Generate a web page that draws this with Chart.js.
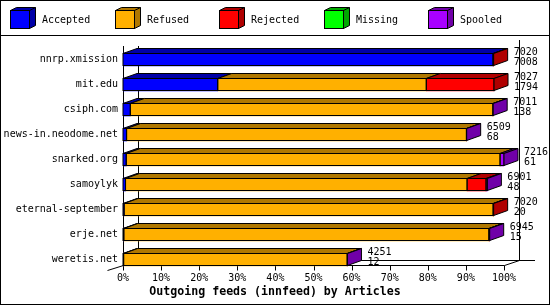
<!DOCTYPE html>
<html lang="en">
<head>
<meta charset="UTF-8">
<title>Outgoing feeds (innfeed) by Articles</title>
<style>
  body { margin: 0; background: #fff; }
  #myChart { display: block; }
</style>
</head>
<body>
<canvas id="myChart" width="550" height="305"></canvas>
<script src="https://cdn.jsdelivr.net/npm/chart.js"></script>
<script>
// feeds and article counts
const feeds = ['nnrp.xmission', 'mit.edu', 'csiph.com', 'news-in.neodome.net', 'snarked.org',
               'samoylyk', 'eternal-september', 'erje.net', 'weretis.net'];
const totals   = [7020, 7027, 7011, 6509, 7216, 6901, 7020, 6945, 4251];
const accepted = [7008, 1794,  138,   68,   61,   48,   20,   15,   12];
const refused  = [   0, 3950, 6868, 6436, 7080, 6469, 6990, 6915, 4234];
const rejected = [  12, 1283,    0,    0,    0,  359,   10,   10,    0];
const missing  = [   0,    0,    0,    0,    0,    0,    0,    0,    0];
const spooled  = [   0,    0,    5,    5,   75,   25,    0,    5,    5];
const xTicks = [0, 10, 20, 30, 40, 50, 60, 70, 80, 90, 100];

const seriesNames = ['Accepted', 'Refused', 'Rejected', 'Missing', 'Spooled'];
const colors = ['#0000ff', '#ffb000', '#ff0000', '#00ff00', '#a800ff'];
const darks  = ['#0000a8', '#b07800', '#b00000', '#00a800', '#7000a8'];

// bars are shown as percent of the largest feed
const maxTotal = Math.max(...totals);
const pct = arr => arr.map(v => v / maxTotal * 100);
const series = [accepted, refused, rejected, missing, spooled];

const DX = 14, DY = 5;       // bar depth
const ADX = 15, ADY = 5;     // axis depth
const FONT = 'DejaVu Sans Mono';

Chart.defaults.font.family = FONT;
Chart.defaults.font.size = 10;
Chart.defaults.color = '#000';

const bars3d = {
  id: 'bars3d',
  beforeDraw(chart) {
    const c = chart.ctx;
    c.save();
    c.fillStyle = '#fff';
    c.fillRect(0, 0, chart.width, chart.height);
    // axes / frame of the 3d plot
    const xs = chart.scales.x;
    const x0 = Math.round(xs.getPixelForValue(0)) + 0.5;
    const x1 = Math.round(xs.getPixelForValue(100)) + 0.5;
    const floor = 265.5;
    c.strokeStyle = '#000';
    c.lineWidth = 1;
    c.beginPath();
    c.moveTo(x0, 46); c.lineTo(x0, floor);
    c.moveTo(x0 + ADX, 46); c.lineTo(x0 + ADX, floor - ADY);
    c.lineTo(535, floor - ADY);
    c.moveTo(x1 + ADX, 40); c.lineTo(x1 + ADX, floor - ADY);
    c.moveTo(x0, floor); c.lineTo(x1, floor); c.lineTo(x1 + ADX, floor - ADY);
    c.moveTo(x0, floor); c.lineTo(x0 - 16, floor + 5);
    xTicks.forEach(t => {
      const px = Math.round(xs.getPixelForValue(t)) + 0.5;
      c.moveTo(px, floor); c.lineTo(px, floor + 5);
    });
    c.stroke();
    c.restore();
  },
  afterDatasetsDraw(chart) {
    const c = chart.ctx;
    c.save();
    c.strokeStyle = '#000';
    c.lineWidth = 1;
    c.lineJoin = 'miter';
    const metas = chart.data.datasets.map((d, i) => chart.getDatasetMeta(i));
    feeds.forEach((f, row) => {
      let last = -1, right = null, top = 0, bottom = 0, cy = 0;
      metas.forEach((m, i) => {
        const p = m.data[row].getProps(['x', 'y', 'base', 'height'], true);
        const xs = Math.min(p.x, p.base), xe = Math.max(p.x, p.base);
        top = p.y - p.height / 2; bottom = p.y + p.height / 2; cy = p.y;
        if (chart.data.datasets[i].data[row] > 0) {
          last = i; right = xe;
          // top face of this segment
          c.fillStyle = darks[i];
          c.beginPath();
          c.moveTo(xs, top + 0.5);
          c.lineTo(xe, top + 0.5);
          c.lineTo(xe + DX, top + 0.5 - DY);
          c.lineTo(xs + DX, top + 0.5 - DY);
          c.closePath();
          c.fill(); c.stroke();
          // outline of the front face
          c.strokeRect(xs, top + 0.5, xe - xs, bottom - top - 1);
        }
      });
      if (last >= 0) {
        c.fillStyle = darks[last];
        c.beginPath();
        c.moveTo(right, top + 0.5);
        c.lineTo(right + DX, top + 0.5 - DY);
        c.lineTo(right + DX, bottom - 0.5 - DY);
        c.lineTo(right, bottom - 0.5);
        c.closePath();
        c.fill(); c.stroke();
      }
      // totals and accepted next to the bar
      c.fillStyle = '#000';
      c.font = '10px ' + FONT;
      c.textAlign = 'left';
      c.textBaseline = 'middle';
      c.fillText(String(totals[row]), right + 20, cy - 7.5);
      c.fillText(String(accepted[row]), right + 20, cy + 2.5);
    });
    c.restore();
  },
  afterDraw(chart) {
    const c = chart.ctx;
    c.save();
    c.strokeStyle = '#000';
    c.lineWidth = 1;
    // legend
    chart.data.datasets.forEach((d, i) => {
      const lx = 10 + Math.round(i * 104.5), ly = 10, w = 19, h = 18, dx = 6, dy = 3;
      c.fillStyle = darks[i];
      c.beginPath();
      c.moveTo(lx + 0.5, ly + 0.5); c.lineTo(lx + dx + 0.5, ly - dy + 0.5);
      c.lineTo(lx + w + dx + 0.5, ly - dy + 0.5); c.lineTo(lx + w + dx + 0.5, ly + h - dy + 0.5);
      c.lineTo(lx + w + 0.5, ly + h + 0.5); c.lineTo(lx + w + 0.5, ly + 0.5);
      c.closePath();
      c.fill(); c.stroke();
      c.beginPath();
      c.moveTo(lx + w + 0.5, ly + 0.5); c.lineTo(lx + w + dx + 0.5, ly - dy + 0.5);
      c.stroke();
      c.fillStyle = d.backgroundColor;
      c.fillRect(lx + 0.5, ly + 0.5, w, h);
      c.strokeRect(lx + 0.5, ly + 0.5, w, h);
      c.fillStyle = '#000';
      c.font = '10px ' + FONT;
      c.textAlign = 'left';
      c.textBaseline = 'middle';
      c.fillText(d.label, lx + 32, 20);
    });
    c.beginPath();
    c.moveTo(0, 35.5); c.lineTo(chart.width, 35.5);
    c.stroke();
    c.strokeRect(0.5, 0.5, chart.width - 1, chart.height - 1);
    c.restore();
  }
};

const ctx = document.getElementById('myChart');

const chart = new Chart(ctx, {
  type: 'bar',
  data: {
    labels: feeds,
    datasets: series.map((s, i) => ({
      label: seriesNames[i],
      data: pct(s),
      backgroundColor: colors[i],
      borderWidth: 0,
      barThickness: 13
    }))
  },
  options: {
    indexAxis: 'y',
    responsive: false,
    animation: false,
    layout: { padding: { top: 47, right: 0, left: 0, bottom: 0 } },
    plugins: {
      legend: { display: false },
      tooltip: { enabled: false },
      title: {
        display: true,
        position: 'bottom',
        text: 'Outgoing feeds (innfeed) by Articles',
        color: '#000',
        font: { size: 11.6, weight: 'bold', family: FONT, lineHeight: 1.2 },
        padding: { top: 0, bottom: 6 }
      }
    },
    scales: {
      x: {
        stacked: true,
        min: 0,
        max: 100,
        grid: { display: false, drawTicks: false },
        border: { display: false },
        ticks: {
          stepSize: 10,
          padding: 0,
          maxRotation: 0,
          callback: v => v + '%'
        },
        afterFit(scale) { scale.height = 13.08; }
      },
      y: {
        stacked: true,
        grid: { display: false, drawTicks: false },
        border: { display: false },
        ticks: { padding: 5, autoSkip: false },
        afterFit(scale) { scale.width = 123; }
      },
      // empty right axis, only keeps room for the value labels
      yRight: {
        type: 'category',
        position: 'right',
        grid: { display: false, drawTicks: false },
        border: { display: false },
        ticks: { display: false },
        afterFit(scale) { scale.width = 46; }
      }
    }
  },
  plugins: [bars3d]
});
</script>
</body>
</html>
